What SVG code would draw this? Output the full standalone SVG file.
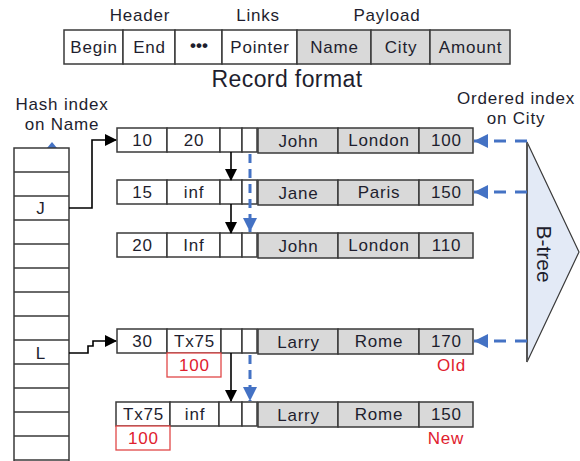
<svg xmlns="http://www.w3.org/2000/svg" width="580" height="461" viewBox="0 0 580 461">
<style>
text{font-family:"Liberation Sans",Arial,sans-serif;fill:#1e1e2e;text-anchor:middle}
.t{font-size:17px;letter-spacing:0.8px}
.lbl{font-size:17px;letter-spacing:0.8px}
.big{font-size:23px;letter-spacing:0.4px}
.bt{font-size:21px}
.red{fill:#e0202e}
.w{fill:#fff;stroke:#3a3a3a;stroke-width:1.5}
.g{fill:#d9d9d9;stroke:#3a3a3a;stroke-width:1.5}
.rb{fill:#fff;stroke:#e04848;stroke-width:1.3}
.blk{stroke:#000;stroke-width:1.6;fill:none}
.blu{stroke:#4472c4;stroke-width:3;fill:none;stroke-dasharray:9 6}
.hb{stroke:#4472c4;stroke-width:3;fill:none;stroke-dasharray:12 9}
</style>
<defs>
<marker id="ab" markerUnits="userSpaceOnUse" markerWidth="12" markerHeight="12" refX="11" refY="6" orient="auto"><path d="M0,0 L12,6 L0,12 Z" fill="#000"/></marker>
<marker id="au" markerUnits="userSpaceOnUse" markerWidth="14" markerHeight="14" refX="14" refY="7" orient="auto"><path d="M0,0 L14,7 L0,14 Z" fill="#4472c4"/></marker>
</defs>

<g id="record-format">
<text class="lbl" x="140" y="21">Header</text>
<text class="lbl" x="258" y="21">Links</text>
<text class="lbl" x="387" y="21">Payload</text>
<rect class="w" x="64" y="30" width="59" height="34"/>
<rect class="w" x="123" y="30" width="52" height="34"/>
<rect class="w" x="175" y="30" width="47" height="34"/>
<rect class="w" x="222" y="30" width="75" height="34"/>
<rect class="g" x="297" y="30" width="74" height="34"/>
<rect class="g" x="371" y="30" width="59" height="34"/>
<rect class="g" x="430" y="30" width="80" height="34"/>
<text class="t" x="94" y="53">Begin</text>
<text class="t" x="149.5" y="53">End</text>
<text class="t" x="199" y="51" font-weight="bold" style="letter-spacing:0">•••</text>
<text class="t" x="260" y="53">Pointer</text>
<text class="t" x="334.5" y="53">Name</text>
<text class="t" x="401" y="53">City</text>
<text class="t" x="470.5" y="53">Amount</text>
<text class="big" x="287" y="87">Record format</text>
</g>

<g id="hash-index">
<text class="lbl" x="62" y="110">Hash index</text>
<text class="lbl" x="62" y="130">on Name</text>
<path d="M47,148 L52,142 L57,148 Z" fill="#4472c4"/>
<path class="w" d="M14,463 V148 H69 V463"/>
<path stroke="#3a3a3a" stroke-width="1.5" d="M14,172H69M14,196H69M14,220H69M14,244H69M14,268H69M14,292H69M14,316H69M14,340H69M14,364H69M14,388H69M14,412H69M14,436H69M14,460H69"/>
<text class="t" x="41" y="214">J</text>
<text class="t" x="41" y="359">L</text>
</g>

<g id="rec1">
<rect class="w" x="117" y="128" width="50" height="24"/>
<rect class="w" x="167" y="128" width="53" height="24"/>
<rect class="w" x="220" y="128" width="22" height="24"/>
<rect class="w" x="242" y="128" width="15" height="24"/>
<rect class="g" x="258" y="128" width="80" height="25"/>
<rect class="g" x="338" y="128" width="81" height="25"/>
<rect class="g" x="419" y="128" width="54" height="25"/>
<text class="t" x="142.5" y="146">10</text>
<text class="t" x="194" y="146">20</text>
<text class="t" x="298.5" y="147">John</text>
<text class="t" x="379" y="146">London</text>
<text class="t" x="446.5" y="146">100</text>
</g>

<g id="rec2">
<rect class="w" x="117" y="180" width="50" height="24"/>
<rect class="w" x="167" y="180" width="53" height="24"/>
<rect class="w" x="220" y="180" width="22" height="24"/>
<rect class="w" x="242" y="180" width="15" height="24"/>
<rect class="g" x="258" y="180" width="80" height="25"/>
<rect class="g" x="338" y="180" width="81" height="25"/>
<rect class="g" x="419" y="180" width="54" height="25"/>
<text class="t" x="142.5" y="198">15</text>
<text class="t" x="194" y="198">inf</text>
<text class="t" x="298.5" y="199">Jane</text>
<text class="t" x="379" y="198">Paris</text>
<text class="t" x="446.5" y="198">150</text>
</g>

<g id="rec3">
<rect class="w" x="117" y="233" width="50" height="24"/>
<rect class="w" x="167" y="233" width="53" height="24"/>
<rect class="w" x="220" y="233" width="22" height="24"/>
<rect class="w" x="242" y="233" width="15" height="24"/>
<rect class="g" x="258" y="233" width="80" height="25"/>
<rect class="g" x="338" y="233" width="81" height="25"/>
<rect class="g" x="419" y="233" width="54" height="25"/>
<text class="t" x="142.5" y="251">20</text>
<text class="t" x="194" y="251">Inf</text>
<text class="t" x="298.5" y="252">John</text>
<text class="t" x="379" y="251">London</text>
<text class="t" x="446.5" y="251">110</text>
</g>

<g id="rec4">
<rect class="w" x="117" y="329" width="50" height="24"/>
<rect class="w" x="167" y="329" width="54" height="24"/>
<rect class="w" x="221" y="329" width="21" height="24"/>
<rect class="w" x="242" y="329" width="15" height="24"/>
<rect class="g" x="258" y="329" width="80" height="25"/>
<rect class="g" x="338" y="329" width="81" height="25"/>
<rect class="g" x="419" y="329" width="54" height="25"/>
<rect class="rb" x="167" y="353" width="54" height="24"/>
<text class="t" x="142.5" y="347">30</text>
<text class="t" x="194.5" y="347">Tx75</text>
<text class="t red" x="194.5" y="371">100</text>
<text class="t" x="298.5" y="348">Larry</text>
<text class="t" x="379" y="347">Rome</text>
<text class="t" x="446.5" y="347">170</text>
<text class="t red" x="451.5" y="371">Old</text>
</g>

<g id="rec5">
<rect class="w" x="116" y="402" width="54" height="24"/>
<rect class="w" x="170" y="402" width="49" height="24"/>
<rect class="w" x="219" y="402" width="23" height="24"/>
<rect class="w" x="242" y="402" width="15" height="24"/>
<rect class="g" x="258" y="402" width="80" height="25"/>
<rect class="g" x="338" y="402" width="81" height="25"/>
<rect class="g" x="419" y="402" width="54" height="25"/>
<rect class="rb" x="116" y="426" width="54" height="24"/>
<text class="t" x="143.5" y="420">Tx75</text>
<text class="t" x="195" y="420">inf</text>
<text class="t red" x="143.5" y="444">100</text>
<text class="t" x="298.5" y="421">Larry</text>
<text class="t" x="379" y="420">Rome</text>
<text class="t" x="446.5" y="420">150</text>
<text class="t red" x="446" y="444">New</text>
</g>

<g id="btree">
<text class="lbl" x="516" y="104">Ordered index</text>
<text class="lbl" x="516" y="124">on City</text>
<path d="M527,142 L579,252 L527,362 Z" fill="#e3eaf6" stroke="#3a3a3a" stroke-width="1.2"/>
<line x1="527" y1="142" x2="527" y2="362" stroke="#555" stroke-width="2"/>
<text class="bt" transform="translate(537,254) rotate(90)" x="0" y="0">B-tree</text>
</g>

<g id="connectors">
<path class="blk" d="M69,208 H92 V140 H116" marker-end="url(#ab)"/>
<path class="blk" d="M69,353 H88 V346 H93 V341 H116" marker-end="url(#ab)"/>
<line class="blk" x1="231" y1="152" x2="231" y2="180" marker-end="url(#ab)"/>
<line class="blk" x1="231" y1="204" x2="231" y2="233" marker-end="url(#ab)"/>
<line class="blk" x1="231" y1="353" x2="231" y2="401" marker-end="url(#ab)"/>
<line class="blu" x1="250" y1="154" x2="250" y2="232" marker-end="url(#au)"/>
<line class="blu" x1="250" y1="355" x2="250" y2="401" marker-end="url(#au)"/>
<line class="hb" x1="527" y1="141" x2="474" y2="141" marker-end="url(#au)"/>
<line class="hb" x1="527" y1="192" x2="474" y2="192" marker-end="url(#au)"/>
<line class="hb" x1="527" y1="341" x2="474" y2="341" marker-end="url(#au)"/>
</g>
</svg>
